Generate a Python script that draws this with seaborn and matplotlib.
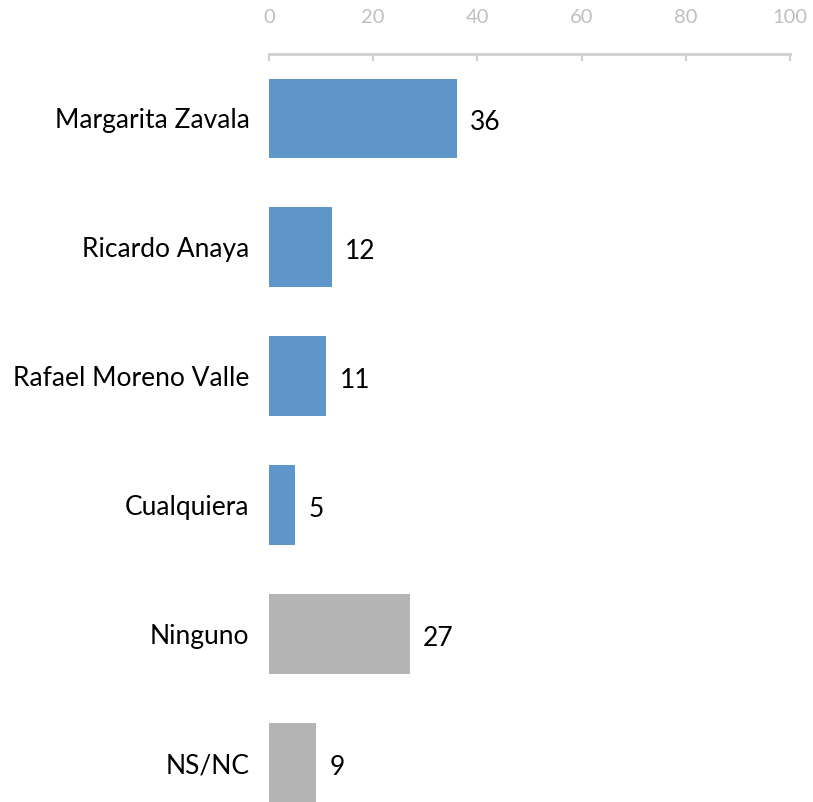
import pandas as pd
import matplotlib.pyplot as plt
import seaborn as sns

candidatos = ['Margarita Zavala', 'Ricardo Anaya', 'Rafael Moreno Valle',
              'Cualquiera', 'Ninguno', 'NS/NC']
valores = [36, 12, 11, 5, 27, 9]
grupo = ['candidato', 'candidato', 'candidato', 'candidato', 'otro', 'otro']
ticks = [0, 20, 40, 60, 80, 100]

df = pd.DataFrame({'candidato': candidatos, 'valor': valores, 'grupo': grupo})

sns.set_style('white')
plt.rcParams['font.family'] = ['Lato', 'DejaVu Sans']

fig = plt.figure(figsize=(8.13, 8.02), dpi=100)
ax = fig.add_axes([269 / 813, 0, (790 - 269) / 813, 1 - 54 / 802])

sns.barplot(data=df, x='valor', y='candidato', hue='grupo',
            palette={'candidato': '#5F96C9', 'otro': '#B4B4B4'},
            width=0.62, dodge=False, legend=False, saturation=1,
            linewidth=0, ax=ax)

for i, v in enumerate(valores):
    ax.text(v + 2.6, i + 0.03, str(v), va='center', ha='left', fontsize=19, color='black')

ax.set_xlim(0, 100)
ax.set_ylim(5.3, -0.5)
ax.set_xticks(ticks)
ax.xaxis.tick_top()
ax.tick_params(axis='x', direction='in', length=5, width=1.5, color='#D0D0D0',
               labelcolor='#BFBFBF', labelsize=14.5, pad=20)
ax.tick_params(axis='y', length=0, labelsize=19, pad=14, labelcolor='black')
ax.set_xlabel('')
ax.set_ylabel('')
for s in ['bottom', 'left', 'right']:
    ax.spines[s].set_visible(False)
ax.spines['top'].set_color('#D0D0D0')
ax.spines['top'].set_linewidth(2)

fig.savefig('out.png', dpi=100)
